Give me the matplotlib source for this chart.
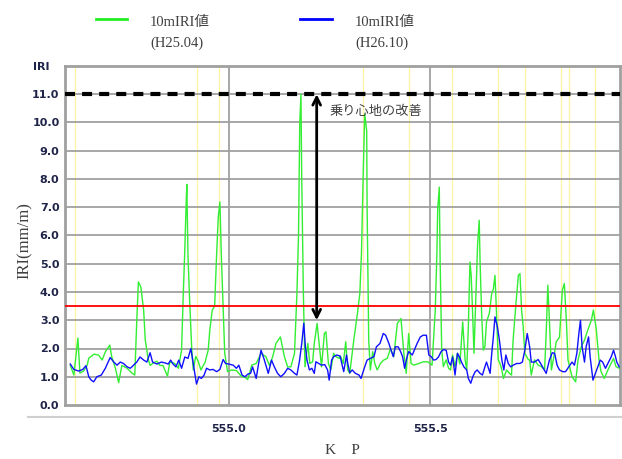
"""IRI along KP: 10m IRI before (H25.04) and after (H26.10) track work."""

import matplotlib
matplotlib.use("Agg")
import matplotlib.pyplot as plt  # noqa: E402
from matplotlib.lines import Line2D  # noqa: E402

# 10mIRI値 (H25.04)
kp_h25 = [554.607, 554.616, 554.626, 554.631, 554.640, 554.649, 554.653, 554.666, 554.677, 554.686,
          554.694, 554.705, 554.710, 554.719, 554.727, 554.735, 554.748, 554.760, 554.767, 554.772,
          554.776, 554.782, 554.789, 554.793, 554.800, 554.805, 554.814, 554.822, 554.829, 554.837,
          554.848, 554.854, 554.866, 554.875, 554.883, 554.887, 554.891, 554.894, 554.896, 554.899,
          554.903, 554.908, 554.912, 554.918, 554.924, 554.931, 554.936, 554.941, 554.949, 554.953,
          554.959, 554.965, 554.970, 554.974, 554.978, 554.982, 554.986, 554.990, 554.997, 555.007,
          555.019, 555.031, 555.041, 555.047, 555.057, 555.068, 555.080, 555.092, 555.101, 555.109,
          555.117, 555.128, 555.138, 555.146, 555.154, 555.163, 555.169, 555.173, 555.176, 555.179,
          555.181, 555.185, 555.189, 555.196, 555.201, 555.208, 555.212, 555.219, 555.224, 555.230,
          555.237, 555.241, 555.247, 555.253, 555.260, 555.266, 555.274, 555.277, 555.284, 555.290,
          555.295, 555.300, 555.310, 555.319, 555.325, 555.329, 555.333, 555.337, 555.342, 555.343,
          555.347, 555.351, 555.357, 555.362, 555.368, 555.376, 555.384, 555.393, 555.401, 555.409,
          555.418, 555.427, 555.434, 555.440, 555.446, 555.452, 555.459, 555.471, 555.483, 555.493,
          555.504, 555.512, 555.516, 555.518, 555.522, 555.524, 555.528, 555.532, 555.539, 555.545,
          555.550, 555.555, 555.561, 555.567, 555.573, 555.580, 555.586, 555.590, 555.594, 555.598,
          555.601, 555.604, 555.608, 555.613, 555.617, 555.621, 555.623, 555.627, 555.631, 555.635,
          555.639, 555.646, 555.652, 555.656, 555.660, 555.664, 555.668, 555.673, 555.677, 555.681,
          555.689, 555.696, 555.701, 555.705, 555.712, 555.718, 555.722, 555.726, 555.730, 555.734,
          555.743, 555.746, 555.750, 555.758, 555.767, 555.775, 555.783, 555.787, 555.791, 555.795,
          555.800, 555.806, 555.812, 555.820, 555.827, 555.832, 555.837, 555.841, 555.845, 555.851,
          555.860, 555.866, 555.874, 555.882, 555.890, 555.899, 555.904, 555.911, 555.918, 555.923,
          555.931, 555.940, 555.948, 555.954, 555.960, 555.968]
iri_h25 = [1.41, 1.06, 2.37, 1.13, 1.20, 1.41, 1.66, 1.80, 1.77, 1.59,
           1.88, 2.12, 1.70, 1.30, 0.79, 1.40, 1.30, 1.13, 1.06, 3.00,
           4.36, 4.18, 3.36, 2.30, 1.65, 1.40, 1.50, 1.55, 1.40, 1.40,
           1.02, 1.52, 1.47, 1.30, 1.94, 3.83, 5.48, 6.96, 7.81, 5.24,
           3.70, 2.06, 1.24, 1.72, 1.56, 1.24, 1.38, 1.50, 1.94, 2.65,
           3.36, 3.50, 5.36, 6.65, 7.19, 5.12, 3.47, 1.83, 1.18, 1.24,
           1.22, 1.02, 0.97, 0.90, 1.41, 1.47, 1.83, 1.71, 1.40, 1.71,
           2.18, 2.41, 1.71, 1.35, 1.35, 1.83, 3.95, 6.07, 9.95, 11.0,
           7.95, 3.95, 1.35, 2.18, 1.47, 1.53, 2.18, 2.89, 2.18, 1.35,
           2.53, 2.59, 1.47, 1.24, 1.83, 1.71, 1.65, 1.73, 1.47, 2.24,
           1.24, 1.12, 2.30, 3.24, 3.95, 5.36, 7.95, 10.3, 9.70, 7.00,
           2.30, 1.24, 1.89, 1.47, 1.24, 1.47, 1.59, 1.65, 2.00, 1.71,
           2.89, 3.06, 1.83, 1.12, 2.53, 1.47, 1.41, 1.47, 1.53, 1.53,
           1.41, 3.36, 5.36, 6.95, 7.71, 5.12, 1.94, 1.36, 1.60, 1.30,
           1.24, 1.77, 1.36, 1.83, 1.45, 2.94, 1.60, 1.24, 2.77, 5.06,
           4.60, 3.47, 1.83, 3.95, 5.71, 6.54, 5.12, 3.20, 1.94, 2.06,
           2.94, 3.24, 3.95, 4.10, 4.59, 3.20, 1.60, 1.45, 1.24, 0.94,
           1.24, 1.12, 1.06, 2.30, 3.59, 4.59, 4.65, 3.36, 2.77, 1.83,
           1.60, 1.60, 1.06, 1.60, 1.41, 1.36, 1.24, 2.53, 4.24, 3.00,
           1.24, 1.71, 2.24, 2.40, 4.06, 4.30, 3.00, 1.60, 1.36, 1.00,
           0.82, 1.60, 2.06, 2.30, 2.65, 3.00, 3.36, 2.70, 1.60, 1.18,
           0.94, 1.24, 1.47, 1.65, 1.36, 1.30]

# 10mIRI値 (H26.10)
kp_h26 = [554.607, 554.616, 554.628, 554.638, 554.646, 554.653, 554.659, 554.665, 554.673, 554.684,
          554.694, 554.706, 554.715, 554.723, 554.731, 554.739, 554.748, 554.756, 554.764, 554.772,
          554.780, 554.789, 554.797, 554.805, 554.811, 554.822, 554.833, 554.842, 554.850, 554.856,
          554.862, 554.869, 554.876, 554.883, 554.891, 554.899, 554.906, 554.912, 554.916, 554.920,
          554.926, 554.932, 554.939, 554.945, 554.953, 554.961, 554.970, 554.978, 554.986, 554.992,
          555.000, 555.011, 555.019, 555.025, 555.033, 555.040, 555.048, 555.054, 555.059, 555.068,
          555.074, 555.080, 555.087, 555.092, 555.098, 555.106, 555.113, 555.121, 555.129, 555.138,
          555.146, 555.154, 555.163, 555.169, 555.175, 555.181, 555.186, 555.190, 555.194, 555.200,
          555.206, 555.212, 555.216, 555.223, 555.230, 555.238, 555.245, 555.249, 555.255, 555.260,
          555.268, 555.276, 555.285, 555.292, 555.295, 555.300, 555.306, 555.314, 555.323, 555.328,
          555.337, 555.343, 555.351, 555.360, 555.366, 555.375, 555.383, 555.389, 555.397, 555.401,
          555.408, 555.413, 555.420, 555.426, 555.431, 555.436, 555.441, 555.446, 555.455, 555.460,
          555.467, 555.475, 555.482, 555.490, 555.496, 555.502, 555.508, 555.514, 555.520, 555.526,
          555.532, 555.539, 555.545, 555.550, 555.555, 555.561, 555.567, 555.572, 555.577, 555.583,
          555.590, 555.594, 555.600, 555.605, 555.611, 555.616, 555.623, 555.629, 555.635, 555.639,
          555.644, 555.648, 555.652, 555.656, 555.660, 555.666, 555.671, 555.677, 555.682, 555.687,
          555.693, 555.699, 555.705, 555.714, 555.722, 555.728, 555.734, 555.740, 555.746, 555.750,
          555.758, 555.767, 555.772, 555.780, 555.787, 555.795, 555.802, 555.808, 555.814, 555.820,
          555.828, 555.835, 555.843, 555.851, 555.857, 555.863, 555.868, 555.872, 555.876, 555.882,
          555.886, 555.892, 555.896, 555.903, 555.909, 555.915, 555.921, 555.927, 555.934, 555.940,
          555.948, 555.954, 555.959, 555.962, 555.968]
iri_h26 = [1.45, 1.26, 1.20, 1.26, 1.39, 1.00, 0.88, 0.82, 1.00, 1.06,
           1.30, 1.68, 1.52, 1.41, 1.52, 1.47, 1.35, 1.30, 1.41, 1.52,
           1.70, 1.59, 1.52, 1.85, 1.52, 1.45, 1.52, 1.49, 1.45, 1.59,
           1.45, 1.35, 1.59, 1.30, 1.70, 1.65, 2.00, 1.47, 1.12, 0.74,
           1.00, 0.94, 1.06, 1.30, 1.24, 1.26, 1.18, 1.26, 1.61, 1.47,
           1.45, 1.41, 1.30, 1.41, 1.06, 1.00, 1.10, 1.12, 1.35, 0.94,
           1.47, 1.94, 1.65, 1.41, 1.12, 1.59, 1.35, 1.12, 1.00, 1.12,
           1.30, 1.24, 1.12, 1.06, 1.53, 2.18, 2.89, 2.06, 1.59, 1.24,
           1.30, 1.12, 1.53, 1.47, 1.41, 1.43, 1.24, 0.88, 1.59, 1.71,
           1.77, 1.73, 1.18, 1.77, 1.47, 1.14, 1.24, 1.12, 1.06, 0.94,
           1.35, 1.59, 1.65, 1.71, 2.06, 2.18, 2.53, 2.47, 2.18, 2.00,
           1.71, 2.06, 2.06, 1.89, 1.71, 1.30, 1.65, 1.89, 1.77, 1.94,
           2.18, 2.41, 2.47, 2.47, 1.77, 1.71, 1.59, 1.61, 1.70, 1.88,
           1.96, 1.94, 1.52, 1.41, 1.70, 1.06, 1.83, 1.70, 1.52, 1.35,
           1.24, 0.94, 0.77, 1.00, 1.18, 1.24, 1.12, 1.06, 1.35, 1.52,
           1.30, 1.12, 1.83, 2.41, 3.12, 2.77, 2.30, 1.60, 1.24, 1.77,
           1.47, 1.35, 1.41, 1.47, 1.47, 1.52, 1.94, 2.53, 2.06, 1.52,
           1.52, 1.61, 1.50, 1.30, 1.12, 1.59, 1.85, 1.83, 1.41, 1.24,
           1.18, 1.18, 1.35, 1.52, 1.41, 1.83, 2.53, 3.00, 2.06, 1.52,
           2.06, 2.41, 1.70, 0.88, 1.12, 1.35, 1.59, 1.52, 1.30, 1.47,
           1.70, 1.94, 1.70, 1.52, 1.35]

# structure positions (thin yellow lines)
kp_marks = [554.619, 554.921, 554.975, 555.332, 555.446, 555.554, 555.668, 555.735, 555.824,
            555.844, 555.908]

iri_before = 11.0   # max IRI before work
iri_limit = 3.5     # target value
arrow_kp = 555.218
arrow_low = 3.0

xticks = [555.0, 555.5]
xtick_labels = ["555.0", "555.5"]
yticks = list(range(12))
ytick_labels = [f"{v:.1f}" for v in yticks]

SERIF = ["Liberation Serif", "Noto Sans CJK JP"]
TICK_C = "#1f2448"
GRID_C = "#a0a0a0"

fig = plt.figure(figsize=(6.22, 4.59), dpi=100)
ax = fig.add_axes([65 / 622, 1 - 405 / 459, 555 / 622, 339 / 459])

for k in kp_marks:
    ax.axvline(k, color="#fff5a0", lw=0.9, zorder=0)
for v in yticks[1:]:
    ax.axhline(v, color=GRID_C, lw=1.3, zorder=1)
for k in xticks:
    ax.axvline(k, color=GRID_C, lw=1.3, zorder=1)

ax.plot(kp_h25, iri_h25, color="#33ee33", lw=1.0, zorder=3)
ax.plot(kp_h26, iri_h26, color="#1010ff", lw=1.0, zorder=4)
ax.axhline(iri_limit, color="#ff0000", lw=1.3, zorder=5)
ax.axhline(iri_before, color="black", lw=3, ls=(0, (2.4, 1.7)), zorder=5)
ax.annotate("", xy=(arrow_kp, arrow_low), xytext=(arrow_kp, iri_before),
            arrowprops=dict(arrowstyle="<->", lw=2, color="black", mutation_scale=14,
                            shrinkA=0, shrinkB=0), zorder=6)
ax.text(555.25, 10.4, "乗り心地の改善", fontsize=9.5, color="#404040",
        family=["Noto Sans CJK JP", "DejaVu Sans"], va="center", ha="left", zorder=6)

ax.set_xlim(554.594, 555.970)
ax.set_ylim(0, 12)
ax.set_xticks(xticks, xtick_labels)
ax.set_yticks(yticks, ytick_labels)
ax.tick_params(length=0, labelsize=8, labelcolor=TICK_C)
ax.tick_params(axis="x", pad=14)
ax.tick_params(axis="y", pad=4)
for lab in ax.get_xticklabels() + ax.get_yticklabels():
    lab.set_fontweight("bold")
for s in ax.spines.values():
    s.set_color(GRID_C)
    s.set_linewidth(2)

ax.set_ylabel("IRI(mm/m)", family=SERIF, fontsize=12, color="#404040")
ax.yaxis.set_label_coords(-0.058, 0.484)
ax.set_xlabel("K\u3000P", family=SERIF, fontsize=11, color="#404040")
ax.xaxis.set_label_coords(0.5, -0.115)

fig.text(41 / 622, 1 - 67 / 459, "IRI", ha="center", va="center", fontsize=8,
         fontweight="bold", color=TICK_C)
# separator under the plot
fig.add_artist(Line2D([28 / 622, 1.0], [1 - 417 / 459] * 2, color="#d0d0d0", lw=1.5))

# legend
fig.add_artist(Line2D([96 / 622, 127 / 622], [1 - 19 / 459] * 2, color="#22ee22", lw=2))
fig.add_artist(Line2D([300 / 622, 332 / 622], [1 - 19 / 459] * 2, color="#0000ff", lw=2))
for x0, period in [(150, "(H25.04)"), (355, "(H26.10)")]:
    fig.text(x0 / 622, 1 - 22 / 459, "10mIRI値", family=SERIF, fontsize=10.5,
             color="#404040", va="center")
    fig.text(x0 / 622, 1 - 43 / 459, period, family=SERIF, fontsize=10.5,
             color="#404040", va="center")

fig.savefig("out.png", dpi=100)
